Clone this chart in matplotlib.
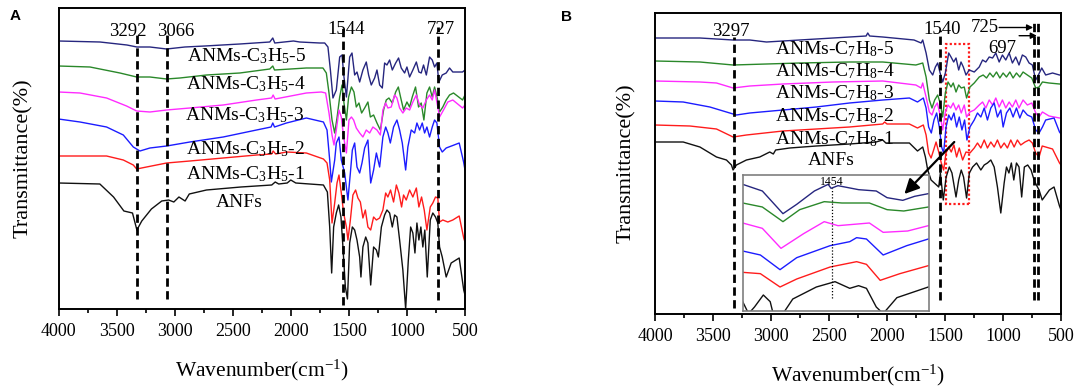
import matplotlib
matplotlib.use("Agg")
import matplotlib.pyplot as plt
from matplotlib.ticker import MultipleLocator
from matplotlib.patches import Rectangle

plt.rcParams["font.family"] = "serif"
plt.rcParams["font.serif"] = ["Liberation Serif", "DejaVu Serif"]
plt.rcParams["mathtext.fontset"] = "custom"
plt.rcParams["mathtext.rm"] = "Liberation Serif"
plt.rcParams["mathtext.it"] = "Liberation Serif:italic"
plt.rcParams["mathtext.default"] = "regular"

# ---------------- Panel A data (wavenumber, transmittance a.u.) ----------------
a5_wn = [4000, 3643, 3411, 3325, 3213, 3069, 2912, 2740, 2439, 2181, 2155, 2138, 1977, 1923, 1751, 1708,
         1680, 1659, 1637, 1608, 1579, 1559, 1542, 1521, 1493, 1473, 1450, 1430, 1407, 1379, 1350, 1330,
         1307, 1278, 1258, 1235, 1212, 1192, 1172, 1149, 1126, 1097, 1072, 1049, 1020, 1000, 977, 949,
         919, 897, 877, 857, 833, 805, 782, 762, 742, 725, 696, 662, 633, 605, 521, 500]
a5_t = [279, 278, 275, 273, 273, 271, 273, 274, 276, 278, 282, 277, 279, 278, 277, 277,
        273, 250, 222, 230, 263, 265, 243, 223, 263, 267, 245, 248, 238, 250, 258, 245,
        235, 242, 250, 235, 232, 257, 255, 260, 250, 257, 262, 252, 247, 253, 243, 250,
        258, 248, 247, 255, 245, 263, 260, 253, 257, 238, 245, 247, 252, 248, 248, 250]

a4_wn = [4000, 3729, 3471, 3327, 3213, 3069, 2955, 2725, 2439, 2181, 2155, 2140, 1866, 1723, 1694, 1671,
         1645, 1622, 1602, 1579, 1559, 1542, 1521, 1502, 1478, 1456, 1436, 1413, 1390, 1364, 1336, 1315,
         1287, 1258, 1229, 1201, 1178, 1155, 1126, 1097, 1074, 1055, 1029, 1000, 977, 954, 926, 900,
         877, 854, 828, 805, 782, 762, 739, 719, 691, 662, 633, 599, 521, 500]
a4_t = [254, 253, 247, 243, 243, 241, 242, 245, 247, 251, 254, 250, 252, 252, 247, 227,
        200, 187, 202, 223, 235, 217, 200, 223, 233, 228, 213, 217, 207, 212, 218, 203,
        205, 197, 190, 210, 220, 222, 217, 228, 233, 223, 210, 218, 213, 223, 233, 213,
        217, 200, 227, 233, 223, 233, 222, 208, 213, 220, 225, 227, 220, 225]

a3_wn = [4000, 3815, 3586, 3414, 3327, 3213, 3069, 2869, 2582, 2295, 2165, 2152, 2135, 1866, 1737, 1700,
         1671, 1645, 1628, 1608, 1585, 1565, 1545, 1521, 1499, 1478, 1459, 1436, 1407, 1379, 1350, 1321,
         1293, 1258, 1229, 1207, 1183, 1164, 1135, 1106, 1086, 1063, 1035, 1006, 977, 949, 919, 891,
         863, 833, 805, 782, 762, 742, 719, 685, 648, 605, 521, 500]
a3_t = [228, 227, 222, 214, 209, 208, 210, 212, 215, 220, 222, 225, 221, 227, 228, 227,
        207, 185, 175, 190, 210, 203, 183, 167, 200, 203, 200, 192, 187, 183, 190, 187,
        193, 190, 185, 210, 217, 212, 213, 225, 222, 212, 207, 212, 210, 218, 225, 215,
        212, 220, 225, 220, 230, 218, 203, 210, 218, 220, 212, 215]

a2_wn = [4000, 3815, 3586, 3442, 3356, 3299, 3213, 3069, 2869, 2582, 2295, 2170, 2155, 2140, 2037, 1866,
         1719, 1688, 1665, 1651, 1622, 1608, 1585, 1565, 1536, 1508, 1487, 1470, 1450, 1430, 1407, 1387,
         1364, 1336, 1312, 1287, 1263, 1235, 1207, 1183, 1164, 1143, 1115, 1086, 1063, 1040, 1011, 992,
         963, 934, 914, 891, 868, 848, 828, 805, 782, 762, 742, 719, 696, 662, 594, 550, 512, 500]
a2_t = [201, 198, 193, 185, 173, 169, 172, 174, 178, 183, 190, 193, 197, 193, 197, 202,
        198, 190, 160, 138, 160, 177, 183, 160, 147, 120, 147, 170, 177, 153, 147, 157,
        172, 180, 137, 150, 167, 153, 183, 193, 187, 177, 193, 200, 190, 177, 150, 173,
        190, 187, 197, 190, 197, 187, 193, 183, 193, 200, 197, 173, 168, 172, 175, 177, 158, 150]

a1_wn = [4000, 3586, 3442, 3356, 3327, 3242, 3069, 2869, 2582, 2295, 2165, 2152, 2130, 2037, 1866, 1719,
         1688, 1665, 1645, 1622, 1602, 1585, 1565, 1545, 1521, 1508, 1487, 1465, 1442, 1422, 1401, 1379,
         1358, 1336, 1312, 1287, 1263, 1235, 1207, 1183, 1164, 1141, 1115, 1091, 1069, 1046, 1029, 1006,
         977, 949, 919, 897, 874, 851, 828, 799, 777, 754, 734, 719, 691, 648, 605, 550, 511, 500]
a1_t = [164, 164, 160, 155, 151, 153, 157, 159, 162, 165, 166, 169, 166, 168, 167, 161,
        157, 140, 97, 117, 137, 145, 127, 107, 93, 80, 100, 125, 130, 122, 118, 102,
        110, 93, 90, 103, 100, 102, 110, 127, 123, 130, 118, 135, 127, 113, 125, 120,
        130, 123, 132, 113, 123, 110, 90, 113, 117, 123, 122, 98, 100, 98, 100, 104, 82, 78]

a0_wn = [4000, 3644, 3526, 3437, 3363, 3325, 3283, 3200, 3111, 3052, 3007, 2963, 2910, 2874, 2726, 2430,
         2164, 2134, 2104, 2031, 2000, 1957, 1719, 1685, 1665, 1648, 1631, 1608, 1588, 1568, 1551, 1530,
         1512, 1493, 1470, 1450, 1430, 1407, 1396, 1379, 1355, 1336, 1312, 1287, 1263, 1246, 1220, 1192,
         1172, 1149, 1126, 1106, 1086, 1063, 1035, 1011, 988, 968, 949, 931, 914, 897, 880, 863,
         846, 825, 799, 777, 754, 734, 719, 696, 662, 619, 550, 511, 500]
a0_t = [137, 136, 123, 109, 107, 90, 99, 111, 119, 120, 118, 123, 119, 126, 130, 133,
        135, 138, 136, 137, 140, 137, 135, 128, 93, 47, 93, 107, 115, 103, 73, 33,
        21, 77, 93, 90, 80, 63, 43, 73, 83, 77, 35, 73, 70, 63, 93, 105,
        110, 107, 93, 105, 103, 80, 50, 11, 60, 93, 87, 67, 97, 80, 93, 73,
        90, 43, 100, 107, 103, 97, 73, 63, 43, 57, 62, 30, 25]

a_labels = ["ANMs-C$_3$H$_5$-5", "ANMs-C$_3$H$_5$-4", "ANMs-C$_3$H$_5$-3",
            "ANMs-C$_3$H$_5$-2", "ANMs-C$_3$H$_5$-1", "ANFs"]
a_peaks = [3325, 3069, 1548, 736]
a_peak_labels = ["3292", "3066", "1544", "727"]

# ---------------- Panel B data ----------------
b5_wn = [4000, 3613, 3327, 3183, 3039, 2753, 2465, 2180, 2166, 2150, 2037, 1767, 1706, 1692, 1663, 1635,
         1606, 1583, 1563, 1542, 1520, 1497, 1468, 1448, 1425, 1405, 1382, 1362, 1342, 1319, 1291, 1248,
         1205, 1176, 1148, 1119, 1090, 1062, 1033, 1005, 976, 947, 919, 890, 862, 833, 804, 775,
         747, 718, 695, 666, 632, 573, 513, 500]
b5_t = [282, 282, 280, 280, 278, 280, 282, 284, 287, 284, 283, 280, 277, 280, 267, 250,
        245, 253, 257, 247, 238, 247, 267, 263, 258, 262, 250, 258, 253, 245, 250, 248,
        253, 260, 258, 263, 262, 267, 258, 265, 260, 267, 257, 263, 255, 265, 263, 257,
        255, 240, 245, 252, 245, 247, 245, 245]

b4_wn = [4000, 3613, 3327, 3039, 2753, 2323, 2037, 1751, 1692, 1663, 1635, 1612, 1589, 1563, 1542, 1520,
         1497, 1474, 1448, 1429, 1405, 1382, 1360, 1334, 1314, 1285, 1248, 1205, 1171, 1142, 1113, 1085,
         1056, 1027, 999, 970, 941, 913, 884, 855, 827, 790, 752, 718, 689, 660, 603, 513, 500]
b4_t = [259, 258, 255, 256, 257, 258, 258, 255, 257, 243, 220, 212, 220, 225, 217, 203,
        227, 238, 233, 237, 228, 235, 232, 233, 222, 233, 237, 243, 245, 242, 247, 243,
        248, 242, 247, 243, 248, 242, 247, 243, 248, 245, 242, 232, 233, 238, 237, 236, 236]

b3_wn = [4000, 3613, 3470, 3327, 3183, 2897, 2465, 2037, 1751, 1706, 1692, 1663, 1635, 1612, 1589, 1566,
         1542, 1520, 1497, 1474, 1451, 1429, 1405, 1382, 1360, 1334, 1314, 1285, 1248, 1205, 1176, 1148,
         1119, 1090, 1062, 1033, 1005, 976, 947, 919, 890, 862, 827, 790, 752, 718, 689, 660, 603, 513, 500]
b3_t = [239, 238, 237, 232, 234, 236, 238, 239, 235, 232, 237, 223, 208, 205, 213, 217,
        205, 190, 208, 215, 212, 217, 210, 215, 207, 215, 203, 208, 210, 215, 218, 212,
        220, 215, 222, 213, 220, 212, 218, 213, 220, 212, 220, 215, 217, 207, 203, 208, 204, 202, 202]

b2_wn = [4000, 3757, 3527, 3384, 3298, 3183, 2897, 2609, 2323, 2037, 1807, 1737, 1687, 1663, 1641, 1618,
         1595, 1572, 1549, 1529, 1512, 1491, 1468, 1446, 1423, 1400, 1377, 1354, 1331, 1311, 1285, 1248,
         1220, 1191, 1162, 1134, 1105, 1076, 1048, 1019, 999, 970, 941, 913, 884, 855, 827, 790,
         752, 718, 689, 660, 632, 560, 513, 500]
b2_t = [219, 218, 213, 208, 205, 207, 210, 213, 217, 220, 222, 218, 222, 212, 193, 187,
        200, 207, 193, 173, 167, 193, 205, 200, 207, 193, 203, 190, 200, 180, 193, 200,
        207, 203, 212, 200, 212, 217, 203, 210, 193, 207, 212, 203, 212, 202, 210, 205,
        203, 190, 187, 193, 200, 202, 188, 186]

b1_wn = [4000, 3699, 3470, 3327, 3212, 2897, 2609, 2323, 2037, 2020, 2000, 1807, 1737, 1687, 1663, 1641,
         1620, 1598, 1577, 1554, 1532, 1512, 1491, 1468, 1446, 1423, 1400, 1377, 1348, 1319, 1285, 1248,
         1220, 1191, 1162, 1134, 1105, 1076, 1048, 1019, 990, 962, 933, 904, 876, 847, 810, 775,
         747, 718, 689, 662, 573, 513, 500]
b1_t = [195, 194, 191, 183, 185, 189, 191, 193, 196, 198, 196, 196, 192, 195, 185, 167,
        162, 170, 178, 168, 157, 150, 167, 173, 168, 175, 163, 172, 160, 168, 167, 172,
        177, 172, 180, 172, 178, 173, 180, 172, 177, 172, 180, 173, 180, 175, 178, 180,
        177, 167, 163, 174, 171, 157, 155]

b0_wn = [4000, 3757, 3613, 3470, 3384, 3341, 3327, 3298, 3212, 3097, 3011, 2980, 2960, 2839, 2609, 2323,
         2094, 2037, 2010, 1807, 1737, 1692, 1669, 1649, 1620, 1554, 1540, 1515, 1490, 1463, 1440, 1405,
         1382, 1360, 1340, 1314, 1290, 1262, 1228, 1191, 1162, 1134, 1105, 1076, 1048, 1019, 990, 970,
         949, 928, 907, 884, 862, 839, 816, 787, 758, 732, 712, 689, 662, 600, 560, 513, 500]
b0_t = [178, 178, 173, 163, 160, 155, 150, 155, 160, 163, 168, 166, 170, 172, 174, 176,
        178, 180, 177, 177, 169, 173, 163, 150, 140, 133, 147, 120, 143, 153, 147, 123,
        140, 150, 143, 122, 147, 153, 157, 150, 155, 157, 160, 153, 133, 107, 137, 153,
        147, 157, 140, 157, 153, 123, 153, 155, 150, 140, 135, 130, 120, 130, 133, 114, 110]

b_labels = ["ANMs-C$_7$H$_8$-5", "ANMs-C$_7$H$_8$-4", "ANMs-C$_7$H$_8$-3",
            "ANMs-C$_7$H$_8$-2", "ANMs-C$_7$H$_8$-1", "ANFs"]
b_peaks = [3318, 1545, 732, 702]

# ---------------- Inset data (zoomed region, relative units) ----------------
i5_wn = [1545, 1525, 1504, 1490, 1472, 1458, 1455, 1448, 1427, 1409, 1398, 1382, 1370, 1356]
i5_t = [95, 90, 73, 80, 90, 95, 92, 94, 91, 90, 85, 83, 86, 88]
i4_wn = [1545, 1525, 1504, 1487, 1462, 1444, 1416, 1398, 1381, 1356]
i4_t = [81, 78, 67, 76, 82, 81, 81, 76, 75, 78]
i3_wn = [1545, 1525, 1506, 1483, 1462, 1448, 1416, 1402, 1377, 1356]
i3_t = [66, 62, 47, 58, 67, 64, 66, 59, 60, 64]
i2_wn = [1545, 1527, 1507, 1490, 1456, 1436, 1429, 1419, 1402, 1378, 1356]
i2_t = [45, 42, 31, 40, 49, 52, 55, 54, 42, 49, 54]
i1_wn = [1545, 1527, 1507, 1490, 1456, 1429, 1419, 1405, 1385, 1356]
i1_t = [29, 28, 18, 24, 33, 37, 35, 23, 28, 34]
i0_wn = [1545, 1539, 1533, 1524, 1517, 1514, 1504, 1494, 1470, 1451, 1436, 1427, 1419, 1409, 1402, 1388, 1356]
i0_t = [7, -2, 3, 12, 7, -2, -2, 9, 18, 22, 17, 19, 17, 3, -2, 10, 18]
inset_peak = 1454

colors = ["#26267f", "#2a882a", "#ff2bff", "#1c1cff", "#ff1c1c", "#111111"]
LW = 1.0

W, H = 1084, 391
fig = plt.figure(figsize=(W / 100, H / 100), dpi=100)


def frac(x0, y0, x1, y1):
    return [x0 / W, 1 - y1 / H, (x1 - x0) / W, (y1 - y0) / H]


axA = fig.add_axes(frac(58.5, 8, 465, 309))
axB = fig.add_axes(frac(655, 13, 1061, 314))

for ax, ylim, lp in ((axA, (11, 312), 18), (axB, (6, 307), 14)):
    ax.set_xlim(4000, 500)
    ax.set_ylim(*ylim)
    ax.xaxis.set_major_locator(MultipleLocator(500))
    ax.xaxis.set_minor_locator(MultipleLocator(250))
    ax.tick_params(axis="x", which="major", direction="out", length=5, width=1.2,
                   labelsize=13, pad=5, top=False)
    ax.tick_params(axis="x", which="minor", direction="out", length=3, width=1.2, top=False)
    ax.set_yticks([])
    for s in ax.spines.values():
        s.set_linewidth(1.4)
    ax.set_xlabel("Wavenumber(cm$^{-1}$)", fontsize=15.5, labelpad=13)
    ax.set_ylabel("Transmittance(%)", fontsize=16, labelpad=lp)

a_series = [(a5_wn, a5_t), (a4_wn, a4_t), (a3_wn, a3_t), (a2_wn, a2_t), (a1_wn, a1_t), (a0_wn, a0_t)]
for (wn, t), c in zip(a_series, colors):
    axA.plot(wn, t, color=c, lw=LW)

b_series = [(b5_wn, b5_t), (b4_wn, b4_t), (b3_wn, b3_t), (b2_wn, b2_t), (b1_wn, b1_t), (b0_wn, b0_t)]
for (wn, t), c in zip(b_series, colors):
    axB.plot(wn, t, color=c, lw=LW)

dash = (0, (3, 1.6))
# panel A peak lines
a_line_spans = [(21, 288), (21, 288), (15, 293), (20, 293)]
for p, (y0, y1) in zip(a_peaks, a_line_spans):
    axA.plot([p, p], [y0, y1], color="k", lw=2, ls=dash)
a_label_pos = [(3402, 289), (2990, 289), (1523, 290), (706, 290)]
for txt, (x, y) in zip(a_peak_labels, a_label_pos):
    axA.text(x, y, txt, fontsize=13.5, ha="center", va="center")

a_lab_y = [264, 236, 205, 171, 146, 118]
a_lab_x = [2385, 2390, 2395, 2395, 2395, 2440]
for txt, x, y in zip(a_labels, a_lab_x, a_lab_y):
    axA.text(x, y, txt, fontsize=14, ha="center", va="center")

# panel B peak lines
b_line_spans = [(12, 283), (20, 290), (20, 297), (20, 297)]
for p, (y0, y1) in zip(b_peaks, b_line_spans):
    axB.plot([p, p], [y0, y1], color="k", lw=2, ls=dash)
axB.text(3346, 289, "3297", fontsize=13.5, ha="center", va="center")
axB.text(1523, 290, "1540", fontsize=13.5, ha="center", va="center")
axB.text(1154, 292.5, "725", fontsize=13.5, ha="center", va="center")
axB.text(1007, 271.5, "697", fontsize=13.5, ha="center", va="center")
axB.annotate("", xy=(740, 292.5), xytext=(1033, 292.5),
             arrowprops=dict(arrowstyle="-|>", lw=1.0, color="k", mutation_scale=9, shrinkA=0, shrinkB=0))
axB.annotate("", xy=(708, 284.3), xytext=(861, 284.3),
             arrowprops=dict(arrowstyle="-|>", lw=1.0, color="k", mutation_scale=9, shrinkA=0, shrinkB=0))

b_lab_y = [271, 248.5, 227, 203.5, 181, 159.3]
b_lab_x = [2453, 2453, 2453, 2453, 2453, 2480]
for txt, x, y in zip(b_labels, b_lab_x, b_lab_y):
    axB.text(x, y, txt, fontsize=14, ha="center", va="center")

axB.add_patch(Rectangle((1297, 116), 194, 160, fill=False, ec="#ff1c1c", lw=1.6, ls=(0, (1, 1))))

# inset
axI = fig.add_axes(frac(742.7, 175, 929.3, 311))
axI.set_xlim(1545, 1355)
axI.set_ylim(0, 102)
axI.set_xticks([])
axI.set_yticks([])
for s in axI.spines.values():
    s.set_color("#7f7f7f")
    s.set_linewidth(1.2)
i_series = [(i5_wn, i5_t), (i4_wn, i4_t), (i3_wn, i3_t), (i2_wn, i2_t), (i1_wn, i1_t), (i0_wn, i0_t)]
for (wn, t), c in zip(i_series, colors):
    axI.plot(wn, t, color=c, lw=1.0)
axI.plot([inset_peak, inset_peak], [10, 92], color="k", lw=0.9, ls=(0, (1, 1.5)))
axI.text(inset_peak, 97, str(inset_peak), fontsize=8.5, ha="center", va="center")
axI.annotate("", xy=(1850, 126), xytext=(1420, 178), xycoords=axB.transData, textcoords=axB.transData,
             arrowprops=dict(arrowstyle="-|>", lw=1.6, color="k", mutation_scale=22, shrinkA=0, shrinkB=0),
             annotation_clip=False)

fig.text(15 / W, 1 - 16 / H, "A", fontsize=11, fontweight="bold", family="Liberation Sans",
         ha="center", va="center")
fig.text(566 / W, 1 - 17 / H, "B", fontsize=11, fontweight="bold", family="Liberation Sans",
         ha="center", va="center")

fig.savefig("out.png", dpi=100)
